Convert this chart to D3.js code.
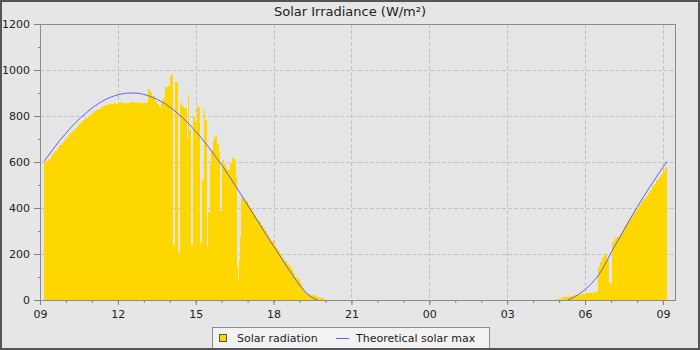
<!DOCTYPE html>
<html><head><meta charset="utf-8">
<script src="https://cdn.jsdelivr.net/npm/d3@7"></script>
<style>
body{margin:0;background:#e6e6e6}
svg{display:block}
text{font-family:"DejaVu Sans",sans-serif}
</style>
</head><body>
<svg id="chart" width="700" height="350"></svg>
<script>
const chartTitle = "Solar Irradiance (W/m²)";
const seriesNames = ["Solar radiation", "Theoretical solar max"];
const xTickLabels = ["09","12","15","18","21","00","03","06","09"];
const yTickValues = [0, 200, 400, 600, 800, 1000, 1200];

// Solar radiation, day 1 (each bar lasts until the next time)
const radDay1Times = ["09:10","09:15","09:20","09:25","09:30","09:35","09:40","09:45","09:50","09:55",
  "10:00","10:05","10:10","10:15","10:20","10:25","10:30","10:35","10:40","10:45","10:50","10:55",
  "11:00","11:05","11:10","11:15","11:20","11:25","11:30","11:35","11:40","11:45","11:50","11:55",
  "12:00","12:05","12:10","12:15","12:20","12:25","12:30","12:35","12:40","12:45","12:50","12:55",
  "13:00","13:05","13:10","13:15","13:20","13:25","13:30","13:35","13:40","13:45","13:50","13:55",
  "14:00","14:04","14:07","14:13","14:19","14:24","14:29","14:34","14:39","14:42","14:45","14:48","14:54","14:58",
  "15:03","15:10","15:14","15:18","15:22","15:25","15:29","15:32","15:35","15:39","15:43","15:47","15:50","15:53","15:55",
  "16:00","16:05","16:10","16:15","16:20","16:25","16:30","16:34","16:36","16:38","16:41","16:43","16:45","16:50","16:55",
  "17:00","17:05","17:10","17:15","17:20","17:25","17:30","17:35","17:40","17:45","17:50","17:55",
  "18:00","18:05","18:10","18:15","18:20","18:25","18:30","18:35","18:40","18:45","18:50","18:55",
  "19:00","19:05","19:10","19:15","19:20","19:25","19:30","19:35","19:40","19:45","19:50","19:55"];
const radDay1Values = [600,603,615,627,638,650,662,674,684,695,
  706,716,726,736,746,756,766,775,783,792,800,806,
  814,820,826,832,838,842,846,849,851,853,855,854,
  857,863,856,858,858,855,862,860,858,862,856,858,
  855,856,916,906,885,865,850,841,862,880,925,932,
  975,978,239,950,208,856,845,835,700,891,739,238,797,775,
  841,246,522,826,783,230,384,590,652,690,710,717,680,643,387,
  609,590,570,565,594,616,609,529,145,87,174,275,443,440,432,
  414,400,385,370,355,342,326,312,298,283,268,255,
  240,226,213,198,184,170,158,146,134,118,102,90,
  74,52,36,28,24,22,20,16,14,12,10,6];

// Solar radiation, day 2 (morning)
const radDay2Times = ["04:55","05:00","05:05","05:10","05:15","05:20","05:25","05:30","05:35","05:40","05:45","05:50","05:55",
  "06:00","06:05","06:10","06:15","06:20","06:25","06:31","06:35","06:40","06:45","06:50","06:56",
  "07:02","07:05","07:10","07:15","07:20","07:25","07:30","07:35","07:40","07:45","07:50","07:55",
  "08:00","08:05","08:10","08:15","08:20","08:25","08:30","08:35","08:40","08:45","08:50","08:55",
  "09:00","09:05"];
const radDay2Values = [4,6,10,12,13,14,17,18,20,21,22,25,28,
  29,31,32,32,33,36,145,165,181,200,174,72,
  246,255,268,275,288,302,316,330,345,360,374,388,
  402,414,428,440,452,466,480,494,506,520,534,548,
  562,578];

// Theoretical solar max
const theoDay1Times = ["09:10","09:15","09:30","09:45","10:00","10:15","10:30","10:45","11:00","11:15","11:30","11:45",
  "12:00","12:15","12:30","12:45","13:00","13:15","13:30","13:45","14:00","14:15","14:30","14:45",
  "15:00","15:15","15:30","15:45","16:00","16:15","16:30","16:45","17:00","17:15","17:30","17:45",
  "18:00","18:15","18:30","18:45","19:00","19:15","19:30","19:42"];
const theoDay1Values = [604,617,655,692,725,757,786,811,834,854,870,883,
  892,898,900,899,894,885,873,858,839,817,792,764,
  733,700,664,626,587,545,502,458,413,368,323,278,
  234,191,147,105,66,32,10,0];
const theoDay2Times = ["05:20","05:30","05:45","06:00","06:15","06:30","06:45","07:00","07:15","07:30","07:45",
  "08:00","08:15","08:30","08:45","09:00","09:10"];
const theoDay2Values = [0,8,24,45,72,105,150,205,255,305,355,402,448,492,535,577,603];

const toDate = (s, day) => { const [h, m] = s.split(":").map(Number); return new Date(2024, 0, 1 + day, h, m); };
const makeBars = (times, values, day) => times.map((t, i) => ({
  t0: toDate(t, day),
  t1: i < times.length - 1 ? toDate(times[i + 1], day) : d3.timeMinute.offset(toDate(t, day), 5),
  v: values[i]
}));
const bars = makeBars(radDay1Times, radDay1Values, 0).concat(makeBars(radDay2Times, radDay2Values, 1));
const theo1 = theoDay1Times.map((t, i) => ({ t: toDate(t, 0), v: theoDay1Values[i] }));
const theo2 = theoDay2Times.map((t, i) => ({ t: toDate(t, 1), v: theoDay2Values[i] }));

const L = 40, R = 675, T = 24, B = 300;
const x = d3.scaleTime().domain([new Date(2024,0,1,9,0), new Date(2024,0,2,9,28)]).range([L, R]);
const y = d3.scaleLinear().domain([0, 1200]).range([B, T]);

const svg = d3.select("#chart");
svg.append("rect").attr("width", 700).attr("height", 350).attr("fill", "#e6e6e6");
svg.append("rect").attr("x", L).attr("y", T).attr("width", R - L).attr("height", B - T).attr("fill", "#e5e5e5");

const majorX = d3.timeHour.range(new Date(2024,0,1,9,0), new Date(2024,0,2,9,1), 3);
const minorX = d3.timeHour.range(new Date(2024,0,1,9,0), new Date(2024,0,2,9,29), 1);

// grid
const grid = svg.append("g").attr("stroke", "#c3c3c3").attr("stroke-dasharray", "4,2").attr("shape-rendering", "crispEdges");
grid.selectAll("line.v").data(majorX.slice(1)).join("line")
  .attr("x1", d => Math.round(x(d)) + 0.5).attr("x2", d => Math.round(x(d)) + 0.5).attr("y1", T).attr("y2", B);
grid.selectAll("line.h").data(yTickValues.filter(v => v > 0 && v < 1200)).join("line")
  .attr("y1", d => Math.round(y(d)) + 0.5).attr("y2", d => Math.round(y(d)) + 0.5).attr("x1", L).attr("x2", R);

// bars
svg.append("g").attr("fill", "#ffd700").attr("shape-rendering", "crispEdges")
  .selectAll("rect").data(bars).join("rect")
  .attr("x", d => Math.round(x(d.t0)))
  .attr("width", d => Math.max(1, Math.round(x(d.t1)) - Math.round(x(d.t0))))
  .attr("y", d => Math.round(y(d.v)))
  .attr("height", d => B - Math.round(y(d.v)));

// theoretical line
const line = d3.line().x(d => x(d.t)).y(d => y(d.v)).curve(d3.curveMonotoneX);
[theo1, theo2].forEach(s => svg.append("path").datum(s).attr("d", line)
  .attr("fill", "none").attr("stroke", "#5f5ff5").attr("stroke-width", 1));

// axes
const xAxis = d3.axisBottom(x).tickValues(majorX).tickSize(5).tickPadding(5)
  .tickFormat((d, i) => xTickLabels[i]);
const gx = svg.append("g").attr("transform", `translate(0,${B})`).call(xAxis);
const gxm = svg.append("g").attr("transform", `translate(0,${B})`)
  .call(d3.axisBottom(x).tickValues(minorX).tickSize(3).tickFormat(""));
const yAxis = d3.axisLeft(y).tickValues(yTickValues).tickSize(6).tickPadding(4).tickFormat(d3.format("d"));
const gy = svg.append("g").attr("transform", `translate(${L},0)`).call(yAxis);
const gym = svg.append("g").attr("transform", `translate(${L},0)`)
  .call(d3.axisLeft(y).tickValues(d3.range(100, 1200, 200)).tickSize(2).tickFormat(""));
[gx, gxm, gy, gym].forEach(g => {
  g.select(".domain").remove();
  g.selectAll("line").attr("stroke", "#808080");
  g.selectAll("text").attr("font-size", 11).attr("fill", "#222").attr("font-family", "DejaVu Sans");
});

// plot border
svg.append("rect").attr("x", L + 0.5).attr("y", T + 0.5).attr("width", R - L).attr("height", B - T)
  .attr("fill", "none").attr("stroke", "#8c8c8c");

// title
svg.append("text").attr("x", 350).attr("y", 16).attr("text-anchor", "middle")
  .attr("font-size", 13).attr("fill", "#222").text(chartTitle);

// legend
const lg = svg.append("g");
lg.append("rect").attr("x", 212.5).attr("y", 327.5).attr("width", 277).attr("height", 24)
  .attr("fill", "#f2f2f2").attr("stroke", "#8c8c8c");
lg.append("rect").attr("x", 219.5).attr("y", 334.5).attr("width", 7).attr("height", 7)
  .attr("fill", "#ffd700").attr("stroke", "#555");
lg.append("text").attr("x", 237).attr("y", 341.5).attr("font-size", 11).attr("fill", "#222").text(seriesNames[0]);
lg.append("line").attr("x1", 336).attr("x2", 349).attr("y1", 338.5).attr("y2", 338.5)
  .attr("stroke", "#5f5ff5").attr("stroke-width", 1);
lg.append("text").attr("x", 356).attr("y", 341.5).attr("font-size", 11).attr("fill", "#222").text(seriesNames[1]);

// outer frame
svg.append("rect").attr("x", 1).attr("y", 1).attr("width", 698).attr("height", 348)
  .attr("fill", "none").attr("stroke", "#555").attr("stroke-width", 2);
</script>
</body></html>
